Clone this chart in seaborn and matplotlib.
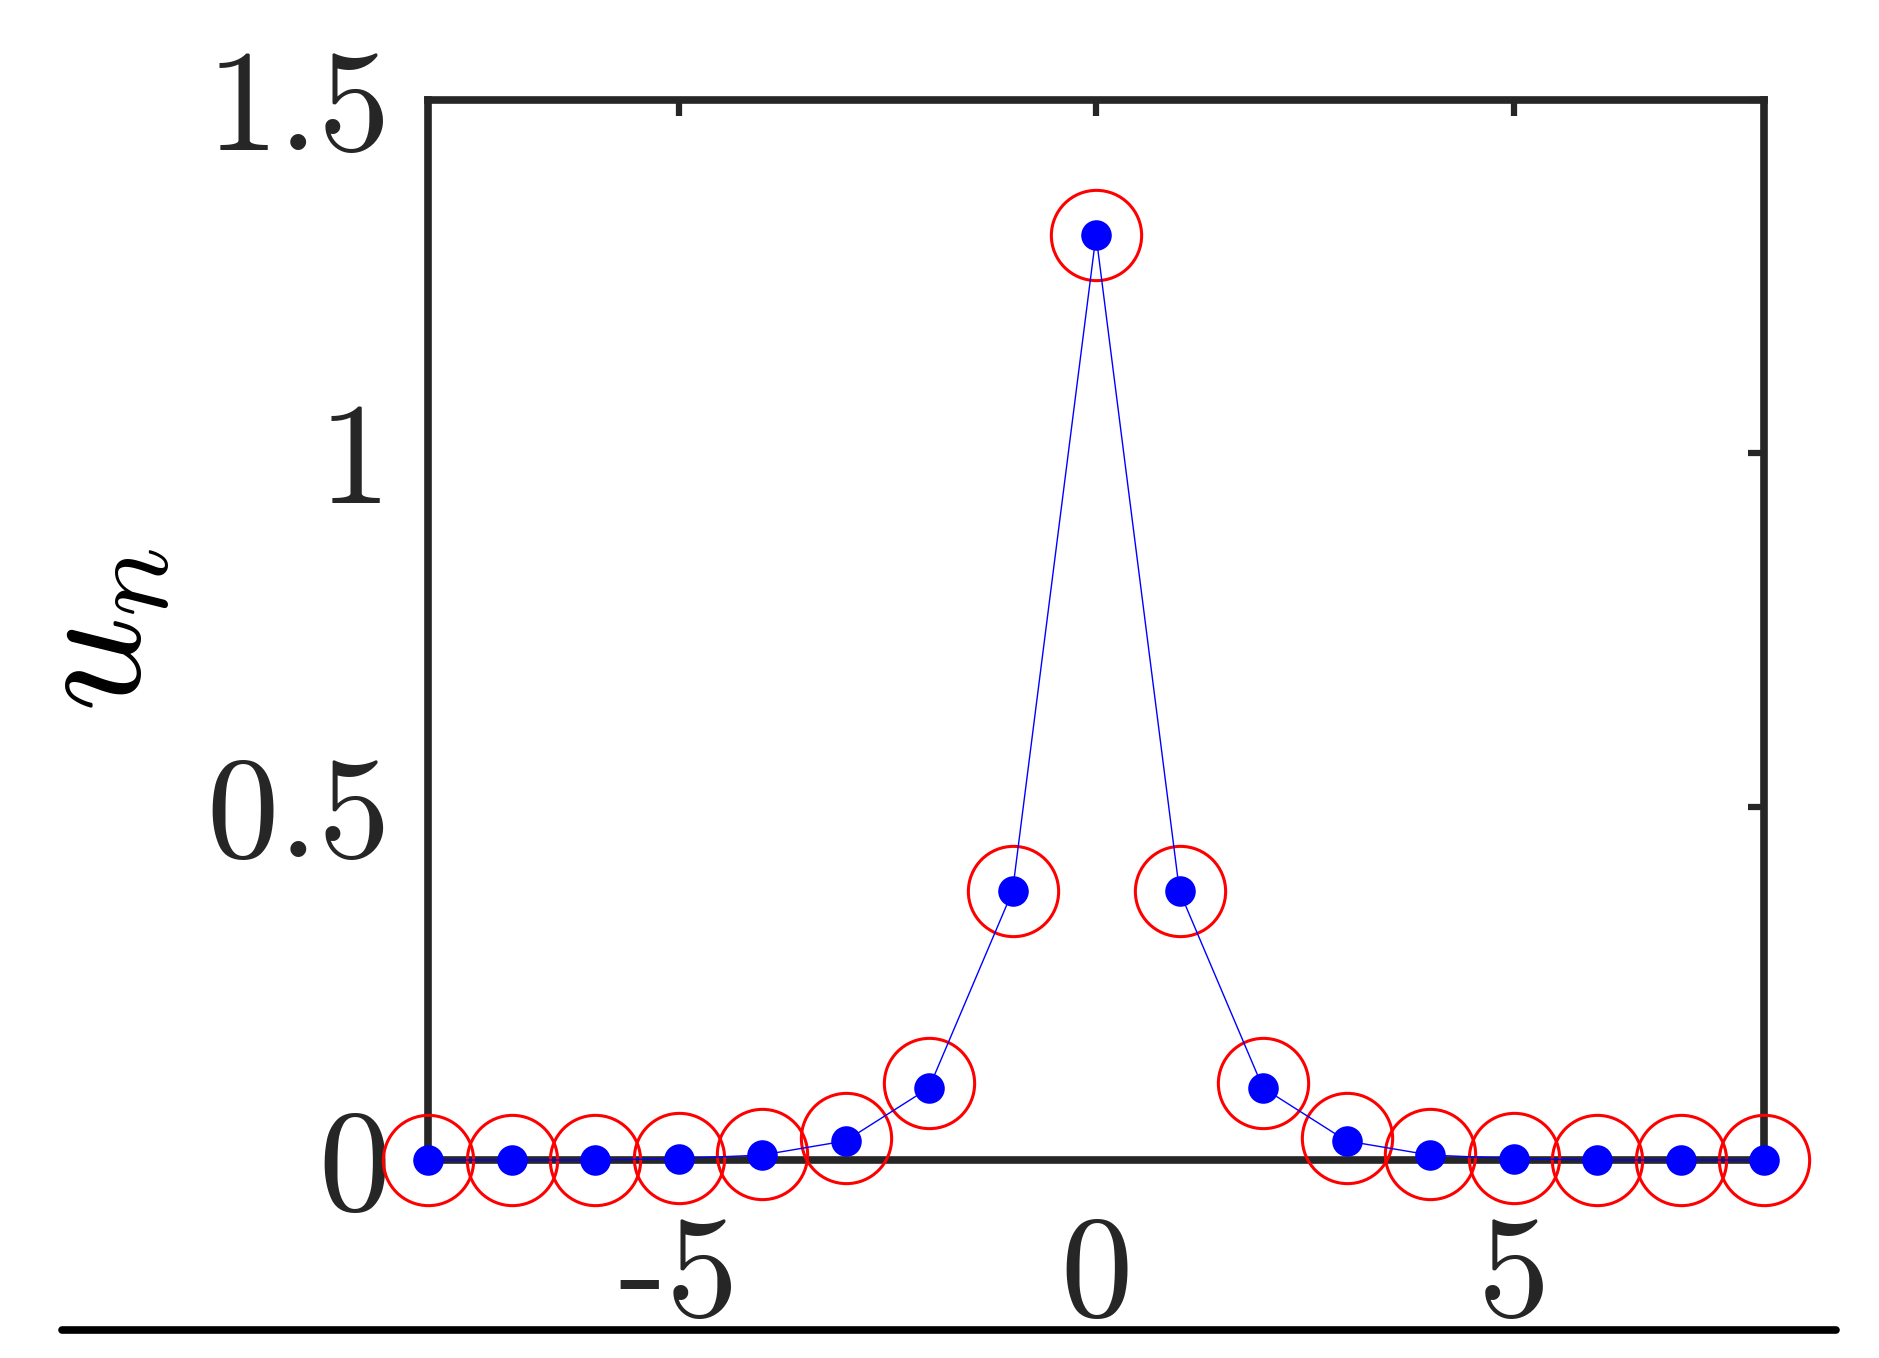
import matplotlib
matplotlib.use('Agg')
import matplotlib.pyplot as plt
from matplotlib.lines import Line2D
import seaborn as sns

# lattice sites and amplitudes
n_sites = list(range(-8, 9))
u_blue = [0, 0, 0, 0.002, 0.007, 0.027, 0.102, 0.380, 1.308,
          0.380, 0.102, 0.027, 0.007, 0.002, 0, 0, 0]
u_red = [0, 0, 0, 0.003, 0.009, 0.031, 0.109, 0.380, 1.308,
         0.380, 0.109, 0.031, 0.009, 0.003, 0, 0, 0]

xticks = [-5, 0, 5]
xtick_labels = ['-5', '0', '5']
yticks = [0, 0.5, 1, 1.5]
ytick_labels = ['0', '0.5', '1', '1.5']

sns.set_style('white')
plt.rcParams['mathtext.fontset'] = 'cm'

axis_color = '#262626'

fig = plt.figure(figsize=(18.79, 13.58), dpi=100)
ax = fig.add_axes([0.2278, 0.1458, 0.7110, 0.7809])

# red open circles
sns.lineplot(x=n_sites, y=u_red, ax=ax, linestyle='', marker='o', markersize=65,
             markerfacecolor='none', markeredgecolor='red', markeredgewidth=2.2,
             errorbar=None, clip_on=False, zorder=3)
# blue dots with thin line
sns.lineplot(x=n_sites, y=u_blue, ax=ax, color='blue', linewidth=1.0, marker='o',
             markersize=22, markeredgecolor='blue', markeredgewidth=0,
             errorbar=None, clip_on=False, zorder=4)

ax.set_xlim(-8, 8)
ax.set_ylim(0, 1.5)
ax.set_xticks(xticks)
ax.set_xticklabels(xtick_labels, fontfamily='cmr10', fontsize=104, color=axis_color)
ax.set_yticks(yticks)
ax.set_yticklabels(ytick_labels, fontfamily='cmr10', fontsize=104, color=axis_color)

ax.tick_params(direction='in', top=True, right=True, length=11.5, width=4.5,
               color=axis_color)
ax.tick_params(axis='x', pad=40)
ax.tick_params(axis='y', pad=27)

for sp in ax.spines.values():
    sp.set_linewidth(5.5)
    sp.set_color(axis_color)
    sp.set_zorder(2)

ax.set_ylabel(r'$u_n$', fontsize=120, color='black')
ax.yaxis.set_label_coords(-0.19, 0.5)

# line under the panel
fig.add_artist(Line2D([0.033, 0.977], [0.0206, 0.0206], transform=fig.transFigure,
                      color='black', linewidth=5.5))

fig.savefig('out.png', dpi=100)
